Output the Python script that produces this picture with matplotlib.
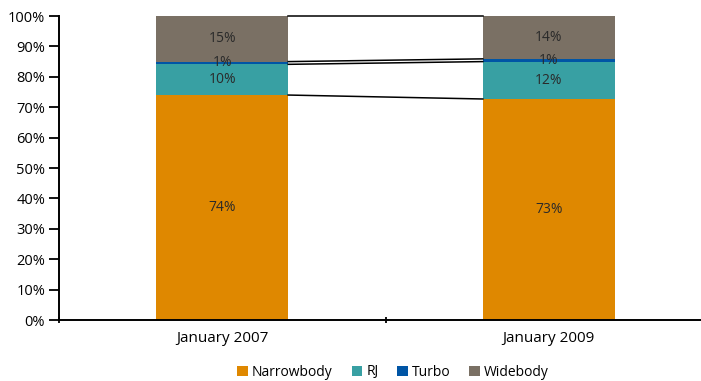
#!/usr/bin/env python3
"""Fleet mix by aircraft type, January 2007 vs January 2009."""

import matplotlib

matplotlib.use("Agg")
import matplotlib.pyplot as plt  # noqa: I001
import numpy as np

CATEGORIES = ["January 2007", "January 2009"]
SERIES = ["Narrowbody", "RJ", "Turbo", "Widebody"]
NARROWBODY = [74.0, 72.7]
RJ = [10.1, 12.3]
TURBO = [0.9, 0.9]
WIDEBODY = [15.0, 14.1]
LABELS = [["74%", "73%"], ["10%", "12%"], ["1%", "1%"], ["15%", "14%"]]
COLORS = ["#DF8800", "#38A0A3", "#0055A5", "#7A7064"]

plt.rcParams["font.family"] = ["Open Sans", "DejaVu Sans"]

values = np.array([NARROWBODY, RJ, TURBO, WIDEBODY])
x = np.arange(len(CATEGORIES))
width = 0.404

fig = plt.figure(figsize=(7.01, 3.81), dpi=100)
ax = fig.add_axes([59 / 701, 61 / 381, 653 / 701, 304 / 381])

bottom = np.zeros(len(CATEGORIES))
handles = []
for series, vals, labels, color in zip(SERIES, values, LABELS, COLORS):
    bars = ax.bar(x, vals, width, bottom=bottom, color=color, label=series,
                  linewidth=0)
    handles.append(bars)
    for xi, v, b, lab in zip(x, vals, bottom, labels):
        ax.text(xi, b + v / 2, lab, ha="center", va="center",
                fontsize=10, color="#2a2a2a")
    bottom = bottom + vals
    # series line joining the segment tops of both bars
    ax.plot([x[0] + width / 2, x[1] - width / 2], [bottom[0], bottom[1]],
            color="black", linewidth=1.1, zorder=3, clip_on=False)

ax.set_xlim(-0.5, 1.5)
ax.set_ylim(0, 100)
ax.set_yticks(np.arange(0, 101, 10))
ax.set_yticklabels([f"{v}%" for v in range(0, 101, 10)], fontsize=10.5)
ax.set_xticks([-0.5, 0.5, 1.5])
ax.set_xticklabels([])
ax.set_xticks(x, minor=True)
ax.set_xticklabels(CATEGORIES, minor=True, fontsize=11)
ax.tick_params(axis="x", which="minor", length=0, pad=8)
ax.tick_params(axis="x", which="major", length=5, width=1.3, direction="inout")
ax.tick_params(axis="y", length=7, width=1.3, direction="out", pad=3)
for side in ("top", "right"):
    ax.spines[side].set_visible(False)
for side in ("left", "bottom"):
    ax.spines[side].set_linewidth(1.4)

fig.legend(handles=handles, labels=SERIES, loc="center", ncol=4,
           bbox_to_anchor=(393 / 701, 1 - 372 / 381), frameon=False,
           fontsize=10, handlelength=0.75, handleheight=0.75,
           handletextpad=0.3, columnspacing=1.35)

fig.savefig("out.png", dpi=100)
